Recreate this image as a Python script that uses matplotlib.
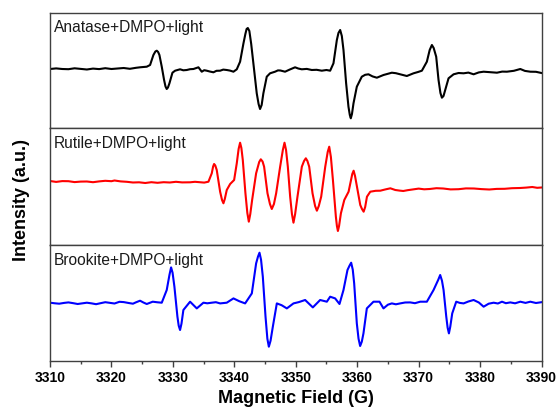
import numpy as np
import matplotlib
matplotlib.use('Agg')
import matplotlib.pyplot as plt

# spectra: (field in G, intensity in a.u.)
anatase = [
    (3310.0, -1), (3311.0, -0.4), (3312.0, -1.0), (3313.0, -1.2), (3314.0, -0.3), (3315.0, -0.9),
    (3316.0, -1.5), (3317.0, -0.6), (3318.0, -1.1), (3319.0, -0.2), (3320.0, -1.0), (3321.0, -0.5),
    (3322.0, 0.0), (3323.0, -0.8), (3324.0, 0.2), (3324.66, 0.7), (3325.75, 1.3), (3326.29, 3),
    (3326.83, 13), (3327.15, 16.5), (3327.38, 17.3), (3327.6, 16), (3327.81, 13), (3328.19, 1.3),
    (3328.57, -12), (3328.8, -18.5), (3329.0, -21), (3329.2, -19.5), (3329.44, -15.3), (3329.93, -4.7),
    (3330.36, -2.7), (3331.17, -1.3), (3331.7, -2.3), (3332.26, -2), (3332.8, -1.2), (3333.34, -1),
    (3334.16, 0.7), (3334.7, -3.7), (3335.1, -2.2), (3335.51, -2.7), (3336.0, -3.5), (3336.6, -4.3),
    (3337.1, -2.8), (3337.69, -2.7), (3338.2, -1.6), (3338.77, -2), (3339.3, -2.6), (3339.86, -3.7),
    (3340.4, -1.3), (3340.94, 6.3), (3341.49, 24.7), (3341.8, 34), (3342.0, 39), (3342.2, 40),
    (3342.45, 37), (3342.75, 24), (3343.1, 4.7), (3343.65, -25.3), (3343.95, -36), (3344.19, -41),
    (3344.45, -37), (3344.73, -25.3), (3345.28, -8.7), (3345.82, -5.3), (3346.63, -3.7), (3347.1, -2.4),
    (3347.5, -2.5), (3348.26, -3.7), (3349.0, -1.6), (3349.89, 0.7), (3350.4, -0.5), (3350.98, -1.3),
    (3351.8, -0.9), (3352.61, -2), (3353.4, -1.8), (3354.24, -2.7), (3355.0, -2.0), (3355.6, -2.7),
    (3356.14, 4.7), (3356.69, 28), (3356.95, 35), (3357.23, 38), (3357.5, 32), (3357.77, 18),
    (3358.2, -15.3), (3358.58, -38.7), (3358.8, -47), (3358.96, -50.3), (3359.15, -46), (3359.4, -35.3),
    (3359.94, -18.7), (3360.75, -8.7), (3361.3, -6.8), (3361.84, -6.3), (3362.5, -8.4), (3363.2, -9.7),
    (3364.28, -7), (3365.0, -5.8), (3365.64, -4.7), (3366.3, -5.2), (3367.0, -6.3), (3368.08, -8),
    (3369.17, -5.3), (3369.9, -4.0), (3370.53, -2.7), (3371.34, 6.3), (3371.8, 18), (3372.16, 23),
    (3372.45, 20), (3372.86, 11.3), (3373.24, -12), (3373.55, -25), (3373.79, -29.7), (3374.05, -28),
    (3374.33, -22), (3374.87, -10.3), (3375.69, -6.3), (3376.5, -5.0), (3377.32, -5.3), (3378.1, -4.6),
    (3378.95, -6.3), (3379.8, -4.4), (3380.58, -3.7), (3381.6, -4.2), (3382.75, -4.7), (3383.6, -3.6),
    (3384.37, -3.7), (3385.5, -2.8), (3386.55, -1), (3387.3, -2.9), (3388.18, -3.7), (3389.1, -3.8),
    (3390.0, -5)]

rutile = [
    (3310.0, 1), (3311.0, 0.1), (3312.0, 0.9), (3313.0, 0.8), (3314.0, -0.1), (3315.0, 0.4),
    (3316.0, 0.5), (3317.0, -0.2), (3318.0, 0.6), (3319.0, 1.2), (3320.0, 0.8), (3320.5, 1.5),
    (3321.5, 0.6), (3322.5, 0.2), (3323.5, -0.5), (3324.5, -0.3), (3325.5, -1), (3326.5, -0.2),
    (3327.5, -0.8), (3328.5, -0.2), (3329.5, -0.5), (3330.5, 0.2), (3331.5, -0.4), (3332.8, -0.3),
    (3333.6, 0.2), (3334.43, -0.3), (3335.1, -0.6), (3335.79, 0.3), (3336.33, 8.7), (3336.55, 15.5),
    (3336.71, 18), (3336.9, 16.5), (3337.14, 12), (3337.69, -9.7), (3338.0, -18), (3338.23, -21.3),
    (3338.45, -17), (3338.77, -8), (3339.32, -2), (3339.97, 2), (3340.4, 18.7), (3340.7, 33),
    (3340.94, 39.3), (3341.15, 34), (3341.38, 22), (3341.81, -11.3), (3342.12, -31), (3342.36, -39.7),
    (3342.6, -32), (3342.9, -18), (3343.55, 8.7), (3344.05, 20), (3344.31, 22.7), (3344.6, 20.5),
    (3344.85, 15.3), (3345.4, -11.3), (3345.8, -22), (3346.1, -27), (3346.45, -22), (3346.81, -11.3),
    (3347.46, 15.3), (3347.9, 32), (3348.17, 39.3), (3348.42, 32), (3348.71, 15.3), (3349.09, -14.7),
    (3349.38, -32), (3349.63, -40.7), (3349.9, -32), (3350.28, -14.7), (3350.99, 15.3), (3351.35, 21),
    (3351.64, 23.7), (3351.9, 21), (3352.19, 15.3), (3352.73, -11.3), (3353.15, -24), (3353.44, -28.7),
    (3353.75, -24), (3354.14, -14.7), (3354.8, 15.3), (3355.2, 30), (3355.45, 35.3), (3355.72, 25),
    (3356.05, 2), (3356.53, -34.7), (3356.7, -44), (3356.86, -49), (3357.05, -44), (3357.35, -31.3),
    (3357.9, -18), (3358.6, -9.7), (3359.2, 8), (3359.42, 11.3), (3359.65, 6), (3359.96, -4.7),
    (3360.5, -23), (3360.78, -27), (3361.05, -29.7), (3361.3, -25), (3361.59, -14.7), (3362.13, -9.7),
    (3363.0, -8.8), (3363.76, -8.7), (3364.6, -7.4), (3365.4, -6.3), (3366.2, -8), (3366.9, -8.6),
    (3367.5, -9), (3368.2, -8.2), (3369.0, -7.5), (3370.0, -6.6), (3370.9, -7.3), (3371.8, -7),
    (3372.9, -6.2), (3374.0, -6.5), (3375.2, -7.4), (3376.5, -7.2), (3377.7, -6.4), (3379.0, -6.5),
    (3380.2, -7.1), (3381.5, -7.5), (3382.7, -6.9), (3384.0, -6.8), (3385.2, -6.2), (3386.5, -6),
    (3387.5, -5.6), (3388.5, -5), (3389.3, -5.8), (3390.0, -5.5)]

brookite = [
    (3310.0, 0), (3310.8, -0.6), (3311.5, -1), (3312.3, -0.2), (3313.0, 0.3), (3313.8, -0.5),
    (3314.5, -1.3), (3315.3, -0.6), (3316.0, 0), (3316.8, -0.7), (3317.5, -1.5), (3318.3, -0.4),
    (3319.0, 0.5), (3319.8, -0.2), (3320.5, -0.8), (3321.3, 0.9), (3322.0, 0.6), (3322.8, -0.3),
    (3323.5, -1), (3324.0, 0.4), (3324.66, 2), (3325.2, 0.2), (3325.75, -1.3), (3326.72, 1),
    (3327.5, 0.4), (3328.19, 0), (3329.0, 12.7), (3329.45, 28), (3329.71, 35.3), (3329.95, 30),
    (3330.25, 16), (3330.74, -14), (3330.95, -23), (3331.17, -27.3), (3331.4, -21), (3331.71, -7.3),
    (3332.8, 1), (3333.89, -5.7), (3334.97, 0), (3335.6, -0.6), (3336.33, 0), (3337.0, 0.5),
    (3337.69, -0.7), (3338.77, 0), (3339.86, 4.3), (3340.8, 1.5), (3341.76, -0.7), (3342.85, 9.3),
    (3343.55, 39.3), (3343.85, 46), (3344.1, 50), (3344.35, 43), (3344.64, 26), (3345.08, -14),
    (3345.38, -36), (3345.62, -44), (3345.9, -38), (3346.27, -24), (3346.92, -0.7), (3347.7, -2.5),
    (3348.55, -5.7), (3349.63, -0.7), (3350.5, 0.6), (3351.53, 2.7), (3352.78, -4.7), (3353.97, 2.7),
    (3355.06, 1), (3355.6, 6), (3356.41, 4.3), (3357.12, -1.3), (3357.77, 12.7), (3358.42, 32.7),
    (3358.75, 37), (3359.02, 40), (3359.28, 33), (3359.51, 19.3), (3359.94, -20.7), (3360.22, -36),
    (3360.48, -43.3), (3360.75, -39), (3361.02, -30.7), (3361.57, -5.7), (3362.65, 1), (3363.63, 1),
    (3364.28, -5.7), (3365.0, -2.0), (3365.64, -0.7), (3366.3, -1.6), (3367.0, -0.7), (3367.8, 0.2),
    (3368.63, 0.3), (3369.4, -0.5), (3370.26, 1), (3371.34, 1), (3372.43, 12.7), (3373.2, 23),
    (3373.51, 27.7), (3373.8, 22), (3374.06, 12.7), (3374.5, -14), (3374.72, -25), (3374.93, -30.7),
    (3375.15, -24), (3375.47, -10.7), (3376.12, 1), (3376.7, -0.2), (3377.32, -0.7), (3378.1, 1.2),
    (3378.95, 2.7), (3379.8, 0.2), (3380.58, -4), (3381.4, -1.0), (3382.21, 0), (3382.9, -0.8),
    (3383.57, 1), (3384.2, -0.5), (3384.92, 0.3), (3385.7, -0.6), (3386.55, 1), (3387.4, -0.2),
    (3388.18, 1), (3389.1, -0.3), (3390.0, 0.5)]

names = ['Anatase+DMPO+light', 'Rutile+DMPO+light', 'Brookite+DMPO+light']
colors = ['black', '#ff0000', '#0000ff']
ylims = [(-60, 55.4), (-63, 54), (-58.3, 57.7)]
xticks = np.arange(3310, 3391, 10)

plt.rcParams['font.family'] = ['Liberation Sans', 'DejaVu Sans']

fig = plt.figure(figsize=(5.57, 4.08), dpi=100)

# panel edges in pixels from the top of the image
edges = [12.6, 128, 245, 361]
left = 50 / 557.0
width = (541.5 - 50) / 557.0

data = [anatase, rutile, brookite]
axes = []
for i in range(3):
    bottom = 1 - edges[i + 1] / 408.0
    height = (edges[i + 1] - edges[i]) / 408.0
    ax = fig.add_axes([left, bottom, width, height])
    field = [p[0] for p in data[i]]
    inten = [p[1] for p in data[i]]
    ax.plot(field, inten, color=colors[i], lw=1.5, solid_joinstyle='round')
    ax.set_xlim(3310, 3390)
    ax.set_ylim(ylims[i])
    ax.set_yticks([])
    for s in ax.spines.values():
        s.set_color('#404040')
        s.set_linewidth(1.0)
    ax.annotate(names[i], xy=(0, 1), xycoords='axes fraction', xytext=(3, -5.5),
                textcoords='offset points', ha='left', va='top', fontsize=11.2, color='#1a1a1a')
    if i < 2:
        ax.set_xticks([])
    axes.append(ax)

ax = axes[2]
ax.set_xticks(xticks)
ax.set_xticks(np.arange(3315, 3390, 10), minor=True)
ax.tick_params(axis='x', which='major', direction='out', length=4.5, width=1.0, color='#404040', pad=2.5)
ax.tick_params(axis='x', which='minor', direction='out', length=2.2, width=1.0, color='#404040')
for lab in ax.get_xticklabels():
    lab.set_fontweight('bold')
    lab.set_fontsize(10)
ax.set_xlabel('Magnetic Field (G)', fontsize=13, fontweight='bold', labelpad=4)

fig.text(22 / 557.0, 1 - 200 / 408.0, 'Intensity (a.u.)', rotation=90, ha='center', va='center',
         fontsize=13, fontweight='bold')

plt.savefig('out.png', dpi=100)
